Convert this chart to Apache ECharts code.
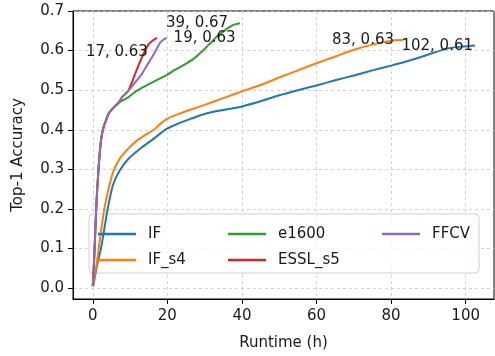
<!DOCTYPE html>
<html>
<head>
<meta charset="utf-8">
<script src="https://cdn.jsdelivr.net/npm/echarts@6/dist/echarts.min.js"></script>
<style>
  html, body { margin: 0; padding: 0; background: #fff; }
  #chart { width: 495px; height: 356px; }
</style>
</head>
<body>
<div id="chart"></div>
<script>
// values
const seriesNames = ['IF', 'IF_s4', 'e1600', 'ESSL_s5', 'FFCV'];

const ifX = [0.1, 0.6, 1.2, 2.2, 3.1, 4, 5.4, 7.1, 9.4, 12.7, 16, 19.8, 23, 26, 30, 35, 40, 45, 50, 55, 60, 65, 70, 75, 80, 85, 90, 95, 100, 102.5];
const ifY = [0.005, 0.03, 0.06, 0.1, 0.15, 0.2, 0.26, 0.295, 0.325, 0.352, 0.375, 0.402, 0.416, 0.427, 0.44, 0.45, 0.459, 0.472, 0.487, 0.5, 0.512, 0.525, 0.537, 0.55, 0.562, 0.575, 0.59, 0.605, 0.611, 0.613];

const ifS4X = [0.1, 0.5, 1, 1.6, 2.3, 3.1, 4.2, 5.5, 7.1, 8.5, 10, 11.5, 13, 15, 16.7, 17.5, 18.5, 20, 23, 26, 30, 35, 40, 45, 50, 55, 60, 65, 70, 75, 80, 82, 83.2];
const ifS4Y = [0.005, 0.03, 0.06, 0.1, 0.15, 0.2, 0.25, 0.295, 0.325, 0.342, 0.357, 0.37, 0.38, 0.392, 0.402, 0.41, 0.418, 0.428, 0.44, 0.45, 0.463, 0.48, 0.497, 0.513, 0.532, 0.55, 0.568, 0.585, 0.602, 0.615, 0.625, 0.627, 0.627];

const e1600X = [0, 0.2, 0.45, 0.7, 0.9, 1.2, 1.5, 1.9, 2.4, 3, 3.6, 4.2, 5, 6, 7, 8, 9.5, 11.3, 13, 15, 17, 19.8, 22, 23.4, 25, 27, 29, 30.6, 32, 33.2, 35, 36.5, 37.7, 39.5];
const e1600Y = [0.005, 0.04, 0.09, 0.15, 0.195, 0.25, 0.295, 0.345, 0.385, 0.41, 0.425, 0.44, 0.45, 0.46, 0.468, 0.474, 0.482, 0.495, 0.505, 0.515, 0.525, 0.538, 0.551, 0.558, 0.567, 0.579, 0.595, 0.61, 0.623, 0.635, 0.648, 0.658, 0.665, 0.669];

const esslX = [0, 0.2, 0.45, 0.7, 0.9, 1.2, 1.5, 1.9, 2.4, 3, 3.6, 4.2, 5, 6, 7, 7.8, 8.7, 9.5, 10.4, 11.3, 12.7, 13.8, 14.9, 16, 17.2];
const esslY = [0.005, 0.04, 0.09, 0.15, 0.195, 0.25, 0.295, 0.345, 0.385, 0.41, 0.425, 0.44, 0.45, 0.46, 0.47, 0.482, 0.49, 0.498, 0.518, 0.54, 0.573, 0.595, 0.615, 0.625, 0.632];

const ffcvX = [0, 0.2, 0.45, 0.7, 0.9, 1.2, 1.5, 1.9, 2.4, 3, 3.6, 4.2, 5, 6, 7, 7.8, 8.7, 9.5, 11.3, 13.1, 14.5, 15.8, 17, 18, 19, 19.8];
const ffcvY = [0.005, 0.04, 0.09, 0.15, 0.195, 0.25, 0.295, 0.345, 0.385, 0.41, 0.425, 0.44, 0.45, 0.46, 0.47, 0.482, 0.49, 0.498, 0.519, 0.54, 0.562, 0.582, 0.602, 0.619, 0.628, 0.632];

const endLabels = ['102, 0.61', '83, 0.63', '39, 0.67', '17, 0.63', '19, 0.63'];

const xTicks = [0, 20, 40, 60, 80, 100];
const yTicks = [0, 0.1, 0.2, 0.3, 0.4, 0.5, 0.6, 0.7];

const colors = ['#1f77b4', '#ff7f0e', '#2ca02c', '#d62728', '#9467bd'];
// where each end label sits relative to the last point
const labelPlace = [
  { align: 'right', offset: [-2, 1] },
  { align: 'right', offset: [-9, 0] },
  { align: 'right', offset: [-12, 0] },
  { align: 'right', offset: [-9, 14] },
  { align: 'left', offset: [7, 0] }
];

const xs = [ifX, ifS4X, e1600X, esslX, ffcvX];
const ys = [ifY, ifS4Y, e1600Y, esslY, ffcvY];

const font = 'DejaVu Sans';
const textColor = '#1a1a1a';

const series = seriesNames.map((name, i) => {
  const data = xs[i].map((x, k) => [x, ys[i][k]]);
  const last = data[data.length - 1];
  return {
    name,
    type: 'line',
    data,
    showSymbol: false,
    symbol: 'none',
    smooth: 0.25,
    color: colors[i],
    lineStyle: { width: 2, color: colors[i] },
    markPoint: {
      symbol: 'circle',
      symbolSize: 0,
      data: [{ coord: last }],
      label: {
        show: true,
        position: 'inside',
        formatter: endLabels[i],
        align: labelPlace[i].align,
        verticalAlign: 'middle',
        offset: labelPlace[i].offset,
        color: textColor,
        fontFamily: font,
        fontSize: 15
      }
    }
  };
});

function legendBlock(names, left) {
  return {
    data: names,
    orient: 'vertical',
    left,
    top: 221,
    icon: 'rect',
    itemWidth: 38,
    itemHeight: 2.5,
    itemGap: 10,
    textStyle: {
      color: textColor,
      fontFamily: font,
      fontSize: 15,
      lineHeight: 16,
      padding: [0, 0, 0, 7]
    }
  };
}

const chart = echarts.init(document.getElementById('chart'), null, { renderer: 'canvas' });
chart.setOption({
  animation: false,
  backgroundColor: '#fff',
  grid: {
    left: 73, right: 1, top: 11, bottom: 54,
    show: true, borderColor: '#000', borderWidth: 1, backgroundColor: '#fff'
  },
  xAxis: {
    type: 'value',
    min: -5.3,
    max: 107.6,
    splitNumber: 5,
    name: 'Runtime (h)',
    nameLocation: 'middle',
    nameGap: 37,
    nameTextStyle: { color: textColor, fontFamily: font, fontSize: 15 },
    axisLine: { show: true, onZero: false, lineStyle: { color: '#000' } },
    axisTick: { show: true, length: 5, customValues: xTicks, lineStyle: { color: '#000' } },
    axisLabel: {
      customValues: xTicks, margin: 10,
      color: textColor, fontFamily: font, fontSize: 15
    },
    splitLine: { show: true, lineStyle: { color: '#c8c8c8', type: [3, 3], width: 0.8 } }
  },
  yAxis: {
    type: 'value',
    min: -0.0275,
    max: 0.7,
    splitNumber: 7,
    name: 'Top-1 Accuracy',
    nameLocation: 'middle',
    nameGap: 47,
    nameTextStyle: { color: textColor, fontFamily: font, fontSize: 15 },
    axisLine: { show: true, onZero: false, lineStyle: { color: '#000' } },
    axisTick: { show: true, length: 5, customValues: yTicks, lineStyle: { color: '#000' } },
    axisLabel: {
      customValues: yTicks, margin: 9,
      formatter: (v) => v.toFixed(1),
      color: textColor, fontFamily: font, fontSize: 15
    },
    splitLine: { show: true, lineStyle: { color: '#c8c8c8', type: [3, 3], width: 0.8 } }
  },
  legend: [
    legendBlock(['IF', 'IF_s4'], 93),
    legendBlock(['e1600', 'ESSL_s5'], 223),
    legendBlock(['FFCV'], 377)
  ],
  graphic: {
    elements: [{
      type: 'rect',
      z: 3,
      shape: { x: 89, y: 214, width: 390, height: 59, r: 4 },
      style: { fill: 'rgba(255,255,255,0.8)', stroke: '#d0d0d0', lineWidth: 1 }
    }]
  },
  series
});
</script>
</body>
</html>
